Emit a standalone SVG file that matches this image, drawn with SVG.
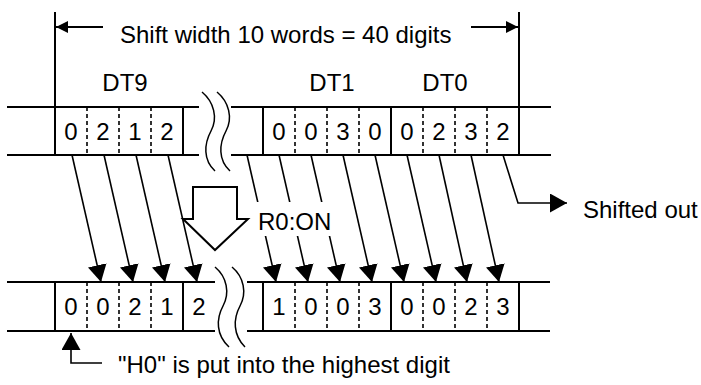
<svg xmlns="http://www.w3.org/2000/svg" width="701" height="385" viewBox="0 0 701 385">
<style>
  text { font-family: "Liberation Sans", Arial, sans-serif; font-size: 24px; fill: #000; }
  .c { text-anchor: middle; }
  .ln { stroke: #000; stroke-width: 2; fill: none; }
  .dash { stroke: #000; stroke-width: 1.6; stroke-dasharray: 4 3; fill: none; }
  .wave { stroke: #000; stroke-width: 1.5; fill: none; }
  .arr { stroke: #000; stroke-width: 1.6; fill: none; marker-end: url(#ah); }
</style>
<defs>
  <marker id="ah" viewBox="0 0 17 19" refX="17" refY="9.5" markerWidth="17" markerHeight="19" markerUnits="userSpaceOnUse" orient="auto">
    <path d="M0,0 L17,9.5 L0,19 z" fill="#000"/>
  </marker>
  <marker id="sh" viewBox="0 0 12 12" refX="12" refY="6" markerWidth="12" markerHeight="12" markerUnits="userSpaceOnUse" orient="auto">
    <path d="M0,0 L12,6 L0,12 z" fill="#000"/>
  </marker>
</defs>
<rect width="701" height="385" fill="#fff"/>

<g id="shift-width">
  <line class="ln" x1="55" y1="12" x2="55" y2="107"/>
  <line class="ln" x1="519" y1="12" x2="519" y2="107"/>
  <line x1="103" y1="27" x2="56" y2="27" stroke="#000" stroke-width="2" marker-end="url(#sh)"/>
  <line x1="471" y1="27" x2="518" y2="27" stroke="#000" stroke-width="2" marker-end="url(#sh)"/>
  <text x="120" y="43">Shift width 10 words = 40 digits</text>
</g>

<g id="labels">
  <text class="c" x="125" y="91">DT9</text>
  <text class="c" x="332" y="91">DT1</text>
  <text class="c" x="445" y="91">DT0</text>
</g>

<g id="top-register">
  <line class="ln" x1="7" y1="107" x2="199" y2="107"/>
  <line class="ln" x1="7" y1="155" x2="199" y2="155"/>
  <line class="ln" x1="231" y1="107" x2="551" y2="107"/>
  <line class="ln" x1="231" y1="155" x2="551" y2="155"/>
  <line class="ln" x1="55" y1="107" x2="55" y2="155"/>
  <line class="ln" x1="183" y1="107" x2="183" y2="155"/>
  <line class="ln" x1="263" y1="107" x2="263" y2="155"/>
  <line class="ln" x1="391" y1="107" x2="391" y2="155"/>
  <line class="ln" x1="519" y1="107" x2="519" y2="155"/>
  <line class="dash" x1="87" y1="107" x2="87" y2="155"/>
  <line class="dash" x1="119" y1="107" x2="119" y2="155"/>
  <line class="dash" x1="151" y1="107" x2="151" y2="155"/>
  <line class="dash" x1="295" y1="107" x2="295" y2="155"/>
  <line class="dash" x1="327" y1="107" x2="327" y2="155"/>
  <line class="dash" x1="359" y1="107" x2="359" y2="155"/>
  <line class="dash" x1="423" y1="107" x2="423" y2="155"/>
  <line class="dash" x1="455" y1="107" x2="455" y2="155"/>
  <line class="dash" x1="487" y1="107" x2="487" y2="155"/>
  <path class="wave" d="M202,92 C214,102 218,118 211,131 C204,144 203,160 215,171"/>
  <path class="wave" d="M217,92 C229,102 233,118 226,131 C219,144 218,160 230,171"/>
  <text class="c" x="71" y="140">0</text>
  <text class="c" x="103" y="140">2</text>
  <text class="c" x="135" y="140">1</text>
  <text class="c" x="167" y="140">2</text>
  <text class="c" x="279" y="140">0</text>
  <text class="c" x="311" y="140">0</text>
  <text class="c" x="343" y="140">3</text>
  <text class="c" x="375" y="140">0</text>
  <text class="c" x="407" y="140">0</text>
  <text class="c" x="439" y="140">2</text>
  <text class="c" x="471" y="140">3</text>
  <text class="c" x="503" y="140">2</text>
</g>

<g id="bottom-register">
  <line class="ln" x1="7" y1="282" x2="215" y2="282"/>
  <line class="ln" x1="7" y1="331" x2="215" y2="331"/>
  <line class="ln" x1="247" y1="282" x2="550" y2="282"/>
  <line class="ln" x1="247" y1="331" x2="550" y2="331"/>
  <line class="ln" x1="55" y1="282" x2="55" y2="331"/>
  <line class="ln" x1="183" y1="282" x2="183" y2="331"/>
  <line class="ln" x1="263" y1="282" x2="263" y2="331"/>
  <line class="ln" x1="391" y1="282" x2="391" y2="331"/>
  <line class="ln" x1="519" y1="282" x2="519" y2="331"/>
  <line class="dash" x1="87" y1="282" x2="87" y2="331"/>
  <line class="dash" x1="119" y1="282" x2="119" y2="331"/>
  <line class="dash" x1="151" y1="282" x2="151" y2="331"/>
  <line class="dash" x1="295" y1="282" x2="295" y2="331"/>
  <line class="dash" x1="327" y1="282" x2="327" y2="331"/>
  <line class="dash" x1="359" y1="282" x2="359" y2="331"/>
  <line class="dash" x1="423" y1="282" x2="423" y2="331"/>
  <line class="dash" x1="455" y1="282" x2="455" y2="331"/>
  <line class="dash" x1="487" y1="282" x2="487" y2="331"/>
  <path class="wave" d="M215,267 C227,277 230,293 223,306 C216,319 216,335 229,347"/>
  <path class="wave" d="M232,267 C244,277 247,293 240,306 C233,319 233,335 245,347"/>
  <text class="c" x="71" y="315">0</text>
  <text class="c" x="103" y="315">0</text>
  <text class="c" x="135" y="315">2</text>
  <text class="c" x="167" y="315">1</text>
  <text class="c" x="199" y="315">2</text>
  <text class="c" x="279" y="315">1</text>
  <text class="c" x="311" y="315">0</text>
  <text class="c" x="343" y="315">0</text>
  <text class="c" x="375" y="315">3</text>
  <text class="c" x="407" y="315">0</text>
  <text class="c" x="439" y="315">0</text>
  <text class="c" x="471" y="315">2</text>
  <text class="c" x="503" y="315">3</text>
</g>

<g id="r0-on">
  <path d="M193,187 L237,187 L237,219 L248,219 L215,250 L183,219 L193,219 Z" fill="#fff" stroke="#000" stroke-width="2" stroke-linejoin="miter"/>
</g>

<g id="connectors">
  <line class="arr" x1="72" y1="155" x2="101" y2="282"/>
  <line class="arr" x1="104" y1="155" x2="133" y2="282"/>
  <line class="arr" x1="136" y1="155" x2="165" y2="282"/>
  <line class="arr" x1="168" y1="155" x2="197" y2="282"/>
  <line class="arr" x1="247" y1="155" x2="276" y2="282"/>
  <line class="arr" x1="279" y1="155" x2="308" y2="282"/>
  <line class="arr" x1="311" y1="155" x2="340" y2="282"/>
  <line class="arr" x1="343" y1="155" x2="372" y2="282"/>
  <line class="arr" x1="375" y1="155" x2="404" y2="282"/>
  <line class="arr" x1="407" y1="155" x2="436" y2="282"/>
  <line class="arr" x1="439" y1="155" x2="467" y2="282"/>
  <line class="arr" x1="471" y1="155" x2="499" y2="282"/>
  <polyline class="arr" points="503,155 518,203 567,203"/>
  <polyline class="arr" points="102,363 71,363 71,333"/>
</g>

<g id="r0-label">
  <rect x="252" y="202" width="86" height="34" fill="#fff"/>
  <text x="258" y="230">R0:ON</text>
</g>

<g id="shifted-out">
  <text x="583" y="218">Shifted out</text>
</g>

<g id="h0-note">
  <text x="118" y="373">"H0" is put into the highest digit</text>
</g>
</svg>
